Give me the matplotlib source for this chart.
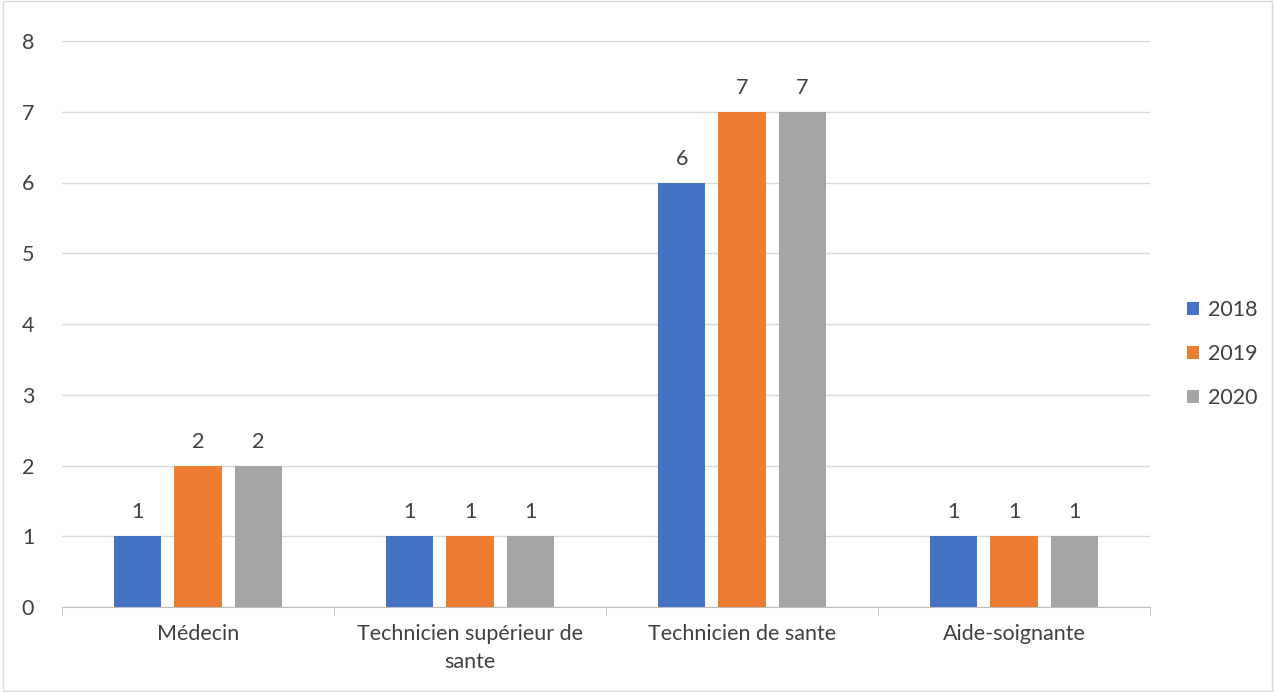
import numpy as np
from matplotlib import pyplot as plt
from matplotlib.patches import Rectangle

categories = ["Médecin", "Technicien supérieur de\nsante", "Technicien de sante", "Aide-soignante"]
years = ["2018", "2019", "2020"]
v2018 = [1, 1, 6, 1]
v2019 = [2, 1, 7, 1]
v2020 = [2, 1, 7, 1]
colors = ["#4472C4", "#ED7D31", "#A5A5A5"]

plt.rcParams["font.family"] = ["Lato", "DejaVu Sans"]
fs = 15.5

fig = plt.figure(figsize=(12.75, 6.92), dpi=100)
ax = fig.add_axes([62 / 1275, 85 / 692, 1088 / 1275, 566 / 692])

x = np.arange(len(categories))
width = 0.173
step = 0.221
for i, (vals, yr) in enumerate(zip([v2018, v2019, v2020], years)):
    bars = ax.bar(x + (i - 1) * step, vals, width, color=colors[i], label=yr, zorder=3)
    ax.bar_label(bars, padding=10, fontsize=fs, color="#404040")

ax.set_xlim(-0.5, len(categories) - 0.5)
ax.set_ylim(0, 8)
ax.set_yticks(range(0, 9))
ax.yaxis.grid(True, color="#D9D9D9", linewidth=1, zorder=0)
ax.tick_params(axis="y", length=0, labelsize=fs, labelcolor="#404040", pad=20)

ax.set_xticks(x)
ax.set_xticklabels(categories, fontsize=fs, color="#404040", linespacing=1.5)
ax.set_xticks(np.arange(-0.5, len(categories)), minor=True)
ax.tick_params(axis="x", which="major", length=0, pad=12)
ax.tick_params(axis="x", which="minor", length=6, color="#BFBFBF")

for s in ["top", "right", "left"]:
    ax.spines[s].set_visible(False)
ax.spines["bottom"].set_color("#BFBFBF")

ax.legend(loc="center left", bbox_to_anchor=(1.03, 0.447), frameon=False,
          fontsize=fs, labelcolor="#404040", handlelength=0.55, handleheight=0.55,
          labelspacing=1.1, handletextpad=0.45, borderaxespad=0.0, borderpad=0.2)

fig.patches.append(Rectangle((0.002, 0.002), 0.996, 0.996, transform=fig.transFigure,
                             fill=False, edgecolor="#D9D9D9", linewidth=1))

fig.savefig("out.png", dpi=100)
